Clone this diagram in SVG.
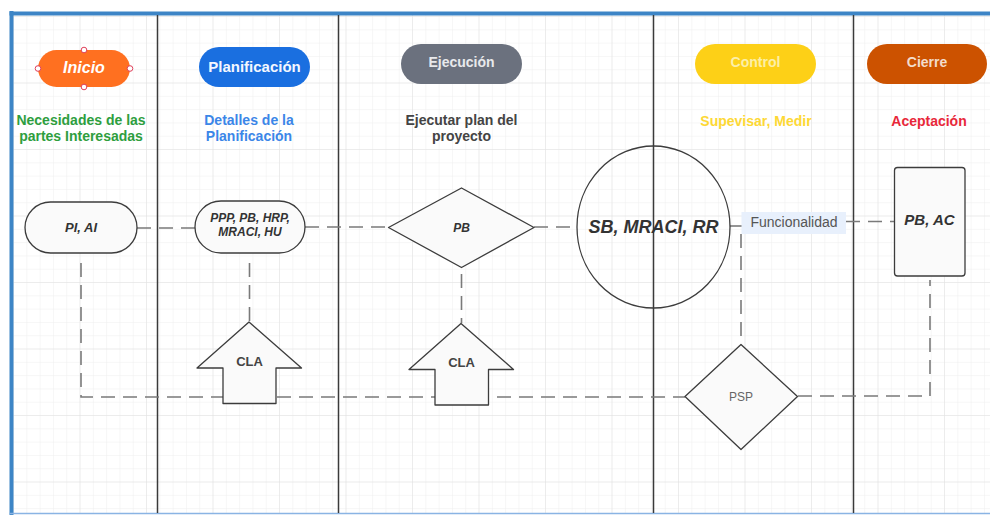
<svg xmlns="http://www.w3.org/2000/svg" width="990" height="515" viewBox="0 0 990 515">
<defs>
<pattern id="gminor" x="14" y="17" width="13.3" height="13.3" patternUnits="userSpaceOnUse">
<path d="M13.3 0V13.3M0 13.3H13.3" fill="none" stroke="#eeeeee" stroke-width="1"/>
</pattern>
<pattern id="gmajor" x="14" y="17" width="66.5" height="66.5" patternUnits="userSpaceOnUse">
<path d="M66.5 0V66.5M0 66.5H66.5" fill="none" stroke="#e2e2e2" stroke-width="1"/>
</pattern>
<style>
.lane{stroke:#3a3a3a;stroke-width:1.5;fill:none}
.conn{stroke:#7a7a7a;stroke-width:1.6;fill:none;stroke-dasharray:14 8}
.shape{fill:#fafafa;stroke:#3c3c3c;stroke-width:1.3}
.hd{font-family:"Liberation Sans",Arial,sans-serif;font-weight:bold;text-anchor:middle}
.sub{font-family:"Liberation Sans",Arial,sans-serif;font-weight:bold;font-size:14px;text-anchor:middle}
.nt{font-family:"Liberation Sans",Arial,sans-serif;font-weight:bold;font-style:italic;text-anchor:middle;fill:#333}
.handle{fill:#fff;stroke:#e0405a;stroke-width:1}
</style>
</defs>
<rect width="990" height="515" fill="#fff"/>
<rect x="11" y="13" width="985" height="500" fill="#fff"/>
<rect x="11" y="13" width="985" height="500" fill="url(#gminor)"/>
<rect x="11" y="13" width="985" height="500" fill="url(#gmajor)"/>
<g id="frame">
<line x1="11.5" y1="11" x2="11.5" y2="515" stroke="#3d85c6" stroke-width="4"/>
<line x1="9.5" y1="13.5" x2="990" y2="13.5" stroke="#3d85c6" stroke-width="4"/>
<line x1="9.5" y1="513.5" x2="990" y2="513.5" stroke="#8ab4e4" stroke-width="1.5"/>
</g>
<g id="lanes">
<line class="lane" x1="157.5" y1="15" x2="157.5" y2="513"/>
<line class="lane" x1="338.5" y1="15" x2="338.5" y2="513"/>
<line class="lane" x1="653.5" y1="15" x2="653.5" y2="513" stroke="#555"/>
<line class="lane" x1="853.5" y1="15" x2="853.5" y2="513" stroke="#555"/>
</g>
<g id="connectors">
<path class="conn" d="M137 228H195"/>
<path class="conn" d="M305 227H388"/>
<path class="conn" d="M534 227H577"/>
<path class="conn" d="M730 226H742"/>
<path class="conn" d="M846 221.5H894"/>
<path class="conn" d="M741 234V344"/>
<path class="conn" d="M81 263V397H685"/>
<path class="conn" d="M249.5 263V322"/>
<path class="conn" d="M461.5 274V323"/>
<path class="conn" d="M798 396H930V280"/>
</g>
<g id="h-inicio">
<rect x="38" y="50" width="92" height="37" rx="18.5" fill="#ff7020"/>
<text class="hd" x="84" y="73" font-size="16" font-style="italic" fill="#fff">Inicio</text>
<circle class="handle" cx="84" cy="50" r="2.8"/>
<circle class="handle" cx="84" cy="87" r="2.8"/>
<circle class="handle" cx="38" cy="68.5" r="2.8"/>
<circle class="handle" cx="130" cy="68.5" r="2.8"/>
</g>
<g id="h-planificacion">
<rect x="199" y="47" width="111" height="40" rx="20" fill="#1a6fe0"/>
<text class="hd" x="254.5" y="71.5" font-size="15" fill="#f4f7ff">Planificación</text>
</g>
<g id="h-ejecucion">
<rect x="401" y="44" width="121" height="40" rx="20" fill="#6b717e"/>
<text class="hd" x="461.5" y="67" font-size="14" fill="#e8e9ec">Ejecución</text>
</g>
<g id="h-control">
<rect x="695" y="44" width="121" height="40" rx="20" fill="#fdd017"/>
<text class="hd" x="755.5" y="67" font-size="14" fill="#fcefa8">Control</text>
</g>
<g id="h-cierre">
<rect x="867" y="44" width="120" height="40" rx="20" fill="#cc5200"/>
<text class="hd" x="927" y="67" font-size="14" fill="#f3dccb">Cierre</text>
</g>
<g id="subtitles">
<text class="sub" x="81" y="125" fill="#2e9e3e">Necesidades de las</text>
<text class="sub" x="81" y="141" fill="#2e9e3e">partes Interesadas</text>
<text class="sub" x="249" y="125" fill="#3b86e8">Detalles de la</text>
<text class="sub" x="249" y="141" fill="#3b86e8">Planificación</text>
<text class="sub" x="461.5" y="125" fill="#444">Ejecutar plan del</text>
<text class="sub" x="461.5" y="141" fill="#444">proyecto</text>
<text class="sub" x="756" y="126" fill="#fdd835">Supevisar, Medir</text>
<text class="sub" x="929" y="126" fill="#e8283a">Aceptación</text>
</g>
<g id="n-piai">
<rect class="shape" x="25" y="202" width="112" height="51" rx="25.5"/>
<text class="nt" x="81" y="232" font-size="13">PI, AI</text>
</g>
<g id="n-ppp">
<rect class="shape" x="195" y="201" width="110" height="52" rx="26"/>
<text class="nt" x="250" y="222" font-size="12">PPP, PB, HRP,</text>
<text class="nt" x="250" y="236" font-size="12">MRACI, HU</text>
</g>
<g id="n-pb">
<polygon class="shape" fill="#fff" points="388.5,227.5 461.5,188 534,227.5 461.5,267.5" stroke-linejoin="round"/>
<text class="nt" x="461.5" y="231.5" font-size="12">PB</text>
</g>
<g id="n-sb">
<ellipse cx="653.5" cy="227" rx="76.5" ry="81" fill="none" stroke="#3c3c3c" stroke-width="1.3"/>
<text class="nt" x="653.5" y="233" font-size="18">SB, MRACI, RR</text>
</g>
<g id="n-funcionalidad">
<rect x="741.5" y="212" width="104.5" height="22" fill="#e8f0fc"/>
<text x="794" y="227" font-family="'Liberation Sans',Arial,sans-serif" font-size="14" text-anchor="middle" fill="#555">Funcionalidad</text>
</g>
<g id="n-pbac">
<rect class="shape" x="894.5" y="167.5" width="70.5" height="108.5" rx="3" fill="#fff"/>
<text class="nt" x="929.5" y="225" font-size="15">PB, AC</text>
</g>
<g id="n-cla1">
<polygon class="shape" fill="#f7f7f7" stroke="#555" stroke-linejoin="round" points="249,322 301.5,368 276,368 276,403.5 223,403.5 223,368 197,368"/>
<text class="hd" x="249.5" y="365.5" font-size="13" fill="#444">CLA</text>
</g>
<g id="n-cla2">
<polygon class="shape" fill="#f7f7f7" stroke="#555" stroke-linejoin="round" points="461,323.5 513.5,369.5 488.5,369.5 488.5,405 435,405 435,369.5 409,369.5"/>
<text class="hd" x="461.5" y="367" font-size="13" fill="#444">CLA</text>
</g>
<g id="n-psp">
<polygon class="shape" fill="#f8f8f8" stroke="#555" stroke-linejoin="round" points="685,396.5 741,344.5 797.5,396.5 741,449.5"/>
<text x="741" y="401" font-family="'Liberation Sans',Arial,sans-serif" font-size="12" text-anchor="middle" fill="#666">PSP</text>
</g>
</svg>
